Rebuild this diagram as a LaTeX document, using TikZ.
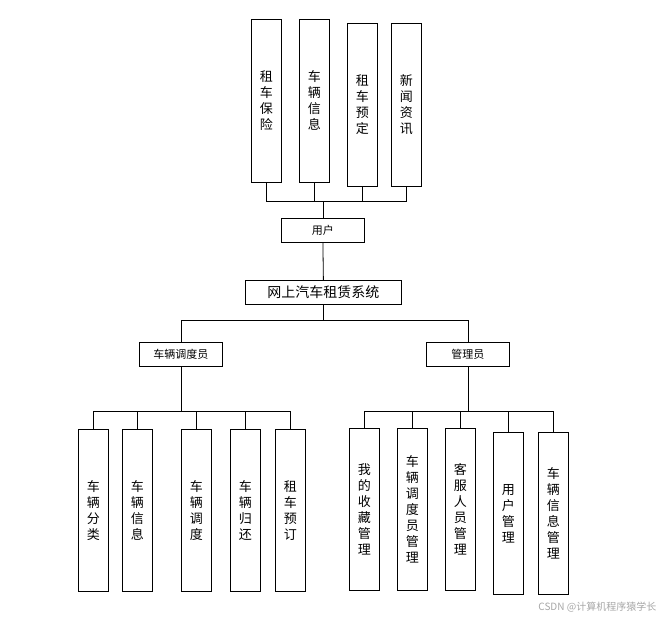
\documentclass[tikz,border=0pt]{standalone}
\usepackage{fontspec}
\newfontfamily\cjk{Noto Sans CJK SC}
\begin{document}
\begin{tikzpicture}[x=1pt,y=-1pt,line width=0.8pt,
  bx/.style={draw,minimum width=30pt,font=\cjk\fontsize{13}{16}\selectfont,inner sep=0pt},
  hb/.style={draw,minimum height=24pt,font=\cjk\fontsize{11}{13}\selectfont,inner sep=0pt}]
\useasboundingbox (0,0) rectangle (665,623);
\newcommand\vb[6]{\node[bx,minimum height=#4-#3 pt,anchor=north west,align=center] (#5) at (#1,#3) {#6};}
% top
\node[bx,minimum height=163pt,anchor=north west,align=center] (t1) at (251,19) {租\\车\\保\\险};
\node[bx,minimum height=163pt,anchor=north west,align=center] (t2) at (299,19) {车\\辆\\信\\息};
\node[bx,minimum height=163pt,anchor=north west,align=center] (t3) at (347,23) {租\\车\\预\\定};
\node[bx,minimum height=163pt,anchor=north west,align=center] (t4) at (391,23) {新\\闻\\资\\讯};
\node[hb,minimum width=83pt,anchor=north west] (u) at (281,218) {用户};
\node[hb,minimum width=156pt,anchor=north west,font=\cjk\fontsize{14}{16}\selectfont] (m) at (245,280) {网上汽车租赁系统};
\node[hb,minimum width=83pt,anchor=north west] (d) at (139,342) {车辆调度员};
\node[hb,minimum width=83pt,anchor=north west] (a) at (426,342) {管理员};
% bottom left
\node[bx,minimum height=162pt,anchor=north west,align=center] (l1) at (78,429) {车\\辆\\分\\类};
\node[bx,minimum height=162pt,anchor=north west,align=center] (l2) at (122,429) {车\\辆\\信\\息};
\node[bx,minimum height=162pt,anchor=north west,align=center] (l3) at (181,429) {车\\辆\\调\\度};
\node[bx,minimum height=162pt,anchor=north west,align=center] (l4) at (230,429) {车\\辆\\归\\还};
\node[bx,minimum height=162pt,anchor=north west,align=center] (l5) at (275,429) {租\\车\\预\\订};
% bottom right
\node[bx,minimum height=162pt,anchor=north west,align=center] (r1) at (349,428) {我\\的\\收\\藏\\管\\理};
\node[bx,minimum height=162pt,anchor=north west,align=center] (r2) at (397,428) {车\\辆\\调\\度\\员\\管\\理};
\node[bx,minimum height=162pt,anchor=north west,align=center] (r3) at (445,428) {客\\服\\人\\员\\管\\理};
\node[bx,minimum height=162pt,anchor=north west,align=center] (r4) at (493,432) {用\\户\\管\\理};
\node[bx,minimum height=162pt,anchor=north west,align=center] (r5) at (538,432) {车\\辆\\信\\息\\管\\理};
% connectors
\foreach \n in {t1,t2,t3,t4} \draw (\n.south) |- (u.north |- 0,201) -- (u.north);
\draw (u.south) -- (m.north);
\draw (m.south) -- ++(0,16) coordinate (j);
\draw (d.north) |- (j) -| (a.north);
\foreach \n in {l1,l2,l3,l4,l5} \draw (\n.north) |- (d.south |- 0,411) -- (d.south);
\foreach \n in {r1,r2,r3,r4,r5} \draw (\n.north) |- (a.south |- 0,411) -- (a.south);
\node[font=\cjk\fontsize{10}{12}\selectfont,text=gray!70,anchor=east] (w) at (660,607) {CSDN @计算机程序猿学长};
\end{tikzpicture}
\end{document}
